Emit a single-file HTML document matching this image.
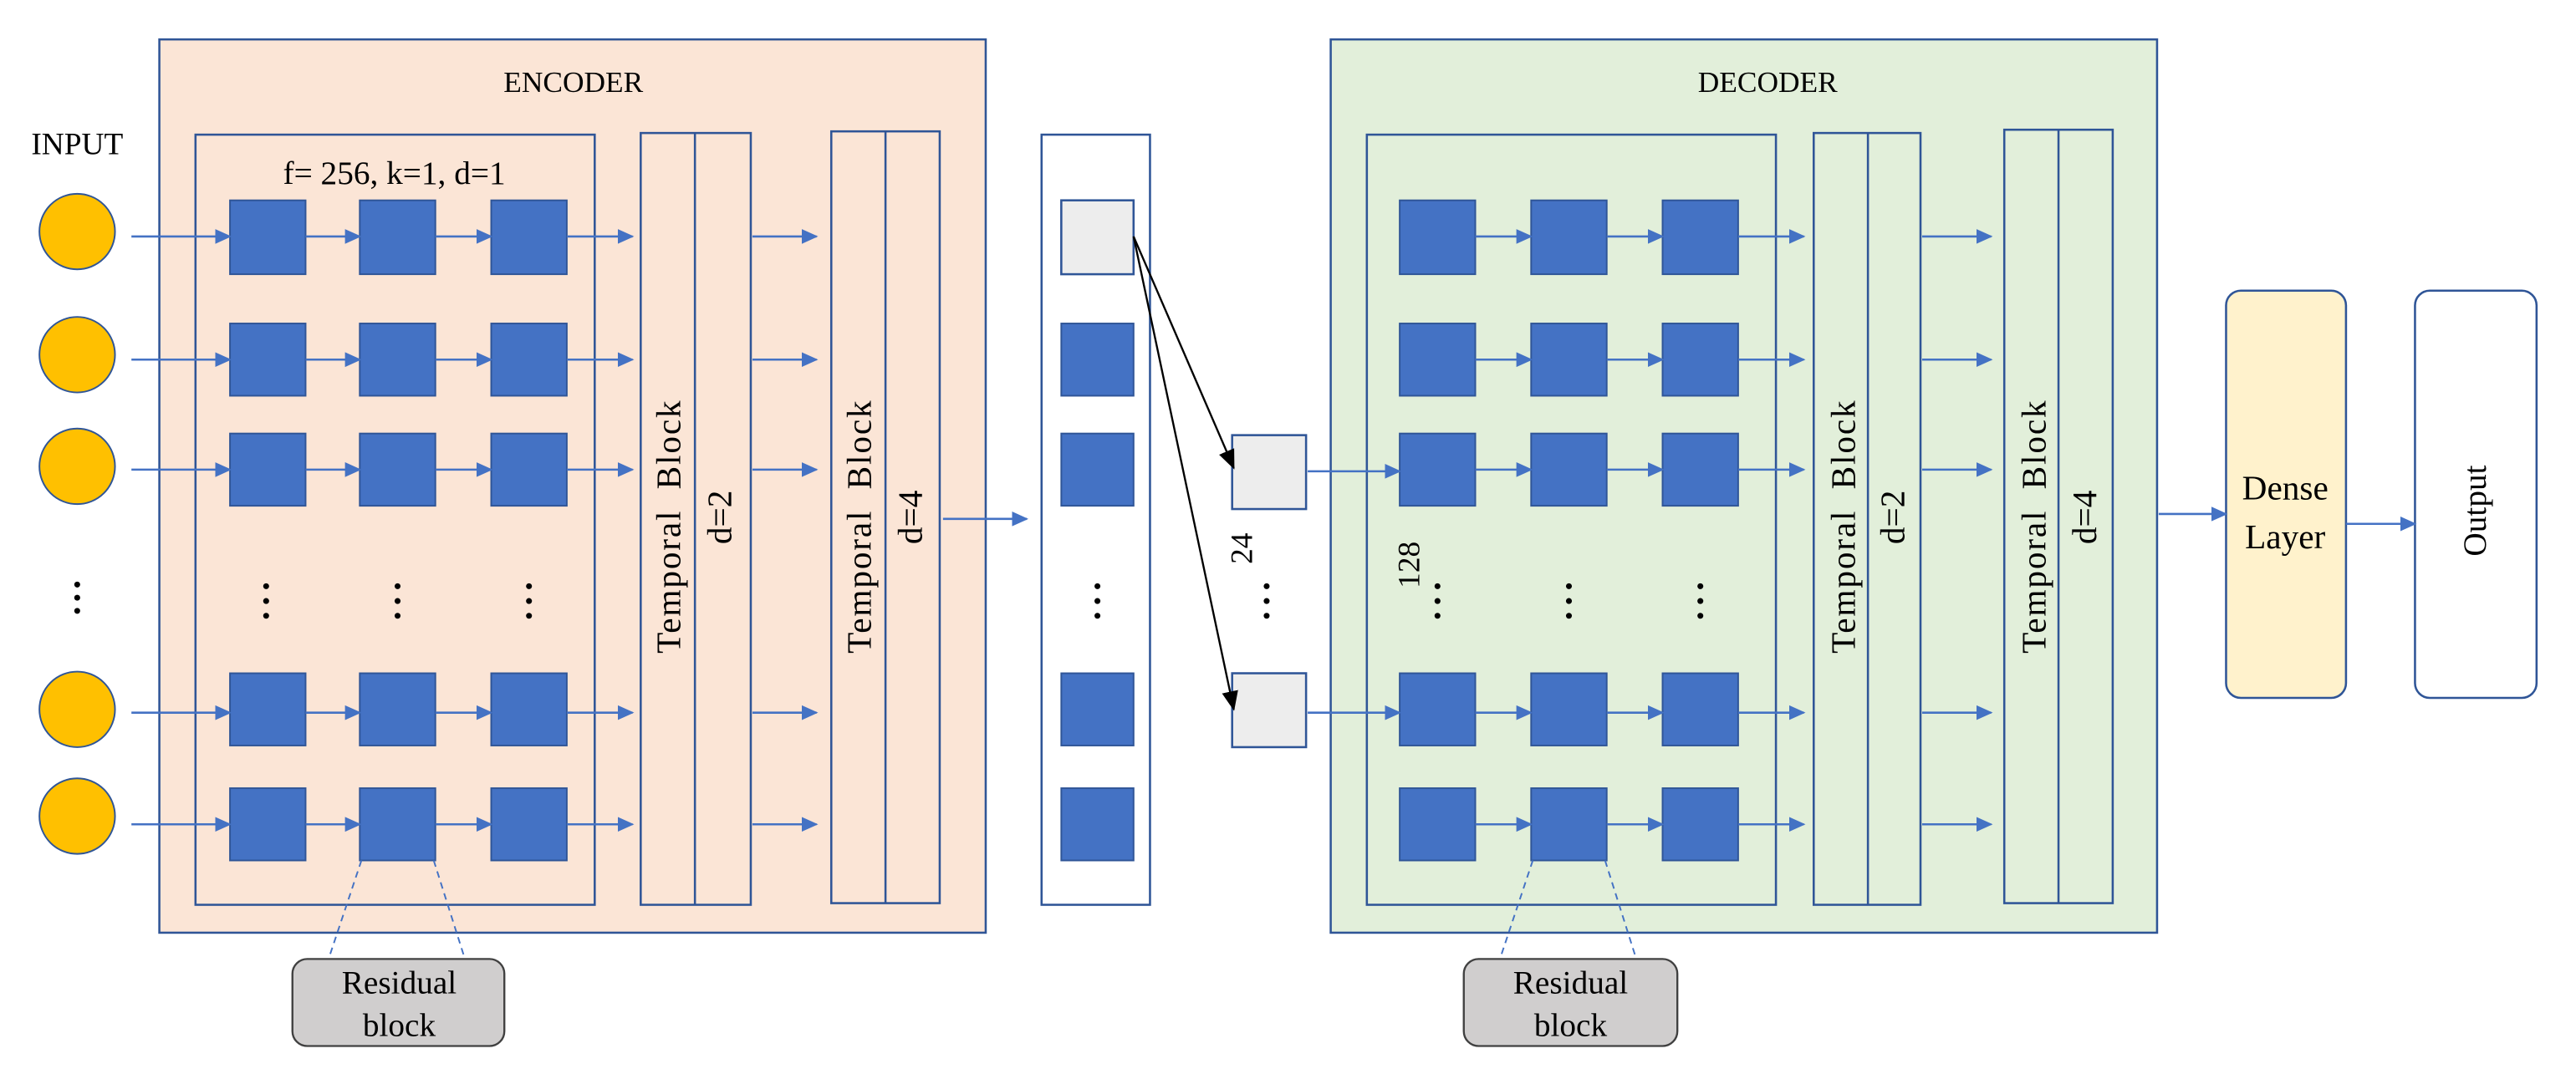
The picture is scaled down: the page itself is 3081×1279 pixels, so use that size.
<!DOCTYPE html>
<html><head><meta charset="utf-8"><style>
html,body{margin:0;padding:0;background:#fff;}
svg{display:block;}
</style></head><body>
<svg width="3081" height="1279" viewBox="0 0 1568 651" preserveAspectRatio="none" xmlns="http://www.w3.org/2000/svg">
<defs>
<marker id="a" markerWidth="10" markerHeight="10" refX="9" refY="5" orient="auto" markerUnits="userSpaceOnUse"><path d="M0,0.5 L10,5 L0,9.5 z" fill="#4472c4"/></marker>
<marker id="k" markerWidth="12" markerHeight="12" refX="11" refY="6" orient="auto" markerUnits="userSpaceOnUse"><path d="M0,1 L12,6 L0,11 z" fill="#000"/></marker>
</defs>
<g stroke="#2f5597" stroke-width="1.3">
<rect x="97" y="24" width="503" height="544" fill="#fbe5d6"/>
<rect x="119" y="82" width="243" height="469" fill="none"/>
<rect x="390" y="81" width="67" height="470" fill="none"/>
<line x1="423" y1="81" x2="423" y2="551"/>
<rect x="506" y="80" width="66" height="470" fill="none"/>
<line x1="539" y1="80" x2="539" y2="550"/>
<rect x="634" y="82" width="66" height="469" fill="#fff"/>
<rect x="646" y="122" width="44" height="45" fill="#ededed"/>
<rect x="750" y="265" width="45" height="45" fill="#ededed"/>
<rect x="750" y="410" width="45" height="45" fill="#ededed"/>
<rect x="810" y="24" width="503" height="544" fill="#e2efda"/>
<rect x="832" y="82" width="249" height="469" fill="none"/>
<rect x="1104" y="81" width="65" height="470" fill="none"/>
<line x1="1137" y1="81" x2="1137" y2="551"/>
<rect x="1220" y="79" width="66" height="471" fill="none"/>
<line x1="1253" y1="79" x2="1253" y2="550"/>
<rect x="1355" y="177" width="73" height="248" rx="9" fill="#fff2cc"/>
<rect x="1470" y="177" width="74" height="248" rx="9" fill="#fff"/>
</g>
<g fill="#ffc000" stroke="#2f5597" stroke-width="1">
<circle cx="47" cy="141" r="23"/><circle cx="47" cy="216" r="23"/><circle cx="47" cy="284" r="23"/>
<circle cx="47" cy="432" r="23"/><circle cx="47" cy="497" r="23"/>
</g>
<g fill="#4472c4" stroke="#2f5597" stroke-width="1">
<rect x="140" y="122" width="46" height="45"/><rect x="219" y="122" width="46" height="45"/><rect x="299" y="122" width="46" height="45"/>
<rect x="140" y="197" width="46" height="44"/><rect x="219" y="197" width="46" height="44"/><rect x="299" y="197" width="46" height="44"/>
<rect x="140" y="264" width="46" height="44"/><rect x="219" y="264" width="46" height="44"/><rect x="299" y="264" width="46" height="44"/>
<rect x="140" y="410" width="46" height="44"/><rect x="219" y="410" width="46" height="44"/><rect x="299" y="410" width="46" height="44"/>
<rect x="140" y="480" width="46" height="44"/><rect x="219" y="480" width="46" height="44"/><rect x="299" y="480" width="46" height="44"/>
<rect x="646" y="197" width="44" height="44"/><rect x="646" y="264" width="44" height="44"/>
<rect x="646" y="410" width="44" height="44"/><rect x="646" y="480" width="44" height="44"/>
<rect x="852" y="122" width="46" height="45"/><rect x="932" y="122" width="46" height="45"/><rect x="1012" y="122" width="46" height="45"/>
<rect x="852" y="197" width="46" height="44"/><rect x="932" y="197" width="46" height="44"/><rect x="1012" y="197" width="46" height="44"/>
<rect x="852" y="264" width="46" height="44"/><rect x="932" y="264" width="46" height="44"/><rect x="1012" y="264" width="46" height="44"/>
<rect x="852" y="410" width="46" height="44"/><rect x="932" y="410" width="46" height="44"/><rect x="1012" y="410" width="46" height="44"/>
<rect x="852" y="480" width="46" height="44"/><rect x="932" y="480" width="46" height="44"/><rect x="1012" y="480" width="46" height="44"/>
</g>
<g stroke="#4472c4" stroke-width="1.3" marker-end="url(#a)">
<line x1="80" y1="144" x2="140" y2="144"/><line x1="186" y1="144" x2="219" y2="144"/><line x1="265" y1="144" x2="299" y2="144"/><line x1="345" y1="144" x2="385" y2="144"/><line x1="458" y1="144" x2="497" y2="144"/>
<line x1="80" y1="219" x2="140" y2="219"/><line x1="186" y1="219" x2="219" y2="219"/><line x1="265" y1="219" x2="299" y2="219"/><line x1="345" y1="219" x2="385" y2="219"/><line x1="458" y1="219" x2="497" y2="219"/>
<line x1="80" y1="286" x2="140" y2="286"/><line x1="186" y1="286" x2="219" y2="286"/><line x1="265" y1="286" x2="299" y2="286"/><line x1="345" y1="286" x2="385" y2="286"/><line x1="458" y1="286" x2="497" y2="286"/>
<line x1="80" y1="434" x2="140" y2="434"/><line x1="186" y1="434" x2="219" y2="434"/><line x1="265" y1="434" x2="299" y2="434"/><line x1="345" y1="434" x2="385" y2="434"/><line x1="458" y1="434" x2="497" y2="434"/>
<line x1="80" y1="502" x2="140" y2="502"/><line x1="186" y1="502" x2="219" y2="502"/><line x1="265" y1="502" x2="299" y2="502"/><line x1="345" y1="502" x2="385" y2="502"/><line x1="458" y1="502" x2="497" y2="502"/>
<line x1="574" y1="316" x2="625" y2="316"/>
<line x1="898" y1="144" x2="932" y2="144"/><line x1="978" y1="144" x2="1012" y2="144"/><line x1="1058" y1="144" x2="1098" y2="144"/><line x1="1170" y1="144" x2="1212" y2="144"/>
<line x1="898" y1="219" x2="932" y2="219"/><line x1="978" y1="219" x2="1012" y2="219"/><line x1="1058" y1="219" x2="1098" y2="219"/><line x1="1170" y1="219" x2="1212" y2="219"/>
<line x1="796" y1="287" x2="852" y2="287"/><line x1="898" y1="286" x2="932" y2="286"/><line x1="978" y1="286" x2="1012" y2="286"/><line x1="1058" y1="286" x2="1098" y2="286"/><line x1="1170" y1="286" x2="1212" y2="286"/>
<line x1="796" y1="434" x2="852" y2="434"/><line x1="898" y1="434" x2="932" y2="434"/><line x1="978" y1="434" x2="1012" y2="434"/><line x1="1058" y1="434" x2="1098" y2="434"/><line x1="1170" y1="434" x2="1212" y2="434"/>
<line x1="898" y1="502" x2="932" y2="502"/><line x1="978" y1="502" x2="1012" y2="502"/><line x1="1058" y1="502" x2="1098" y2="502"/><line x1="1170" y1="502" x2="1212" y2="502"/>
<line x1="1314" y1="313" x2="1355" y2="313"/>
<line x1="1428" y1="319" x2="1470" y2="319"/>
</g>
<g stroke="#000" stroke-width="1.2" marker-end="url(#k)">
<line x1="690" y1="144" x2="751" y2="285"/>
<line x1="690" y1="144" x2="751" y2="432"/>
</g>
<g stroke="#4472c4" stroke-width="1" stroke-dasharray="4,3">
<line x1="220" y1="524" x2="200" y2="584"/><line x1="264" y1="524" x2="283" y2="584"/>
<line x1="933" y1="524" x2="913" y2="584"/><line x1="977" y1="524" x2="996" y2="584"/>
</g>
<g fill="#d0cece" stroke="#404040" stroke-width="1.2">
<rect x="178" y="584" width="129" height="53" rx="9"/>
<rect x="891" y="584" width="130" height="53" rx="9"/>
</g>
<g font-family="'Liberation Serif','DejaVu Serif',serif" font-size="18" text-anchor="middle" fill="#000">
<text x="349" y="56">ENCODER</text>
<text x="1076" y="56">DECODER</text>
<text x="47" y="94" font-size="19">INPUT</text>
<text x="240" y="112" font-size="20">f= 256, k=1, d=1</text>
<text x="243" y="605" font-size="20">Residual</text><text x="243" y="631" font-size="20">block</text>
<text x="956" y="605" font-size="20">Residual</text><text x="956" y="631" font-size="20">block</text>
<text x="1391" y="304" font-size="21">Dense</text><text x="1391" y="334" font-size="21">Layer</text>
<text transform="translate(1513,311) rotate(-90)" font-size="20">Output</text>
<text transform="translate(414,321) rotate(-90)" font-size="21" textLength="154" xml:space="preserve">Temporal  Block</text>
<text transform="translate(445,315) rotate(-90)" font-size="21">d=2</text>
<text transform="translate(530,321) rotate(-90)" font-size="21" textLength="154" xml:space="preserve">Temporal  Block</text>
<text transform="translate(561,315) rotate(-90)" font-size="21">d=4</text>
<text transform="translate(1129,321) rotate(-90)" font-size="21" textLength="154" xml:space="preserve">Temporal  Block</text>
<text transform="translate(1159,315) rotate(-90)" font-size="21">d=2</text>
<text transform="translate(1245,321) rotate(-90)" font-size="21" textLength="154" xml:space="preserve">Temporal  Block</text>
<text transform="translate(1276,315) rotate(-90)" font-size="21">d=4</text>
<text transform="translate(762,334) rotate(-90)" font-size="19">24</text>
<text transform="translate(864,344) rotate(-90)" font-size="19">128</text>
</g>
<g fill="#000">
<circle cx="47" cy="356" r="1.8"/><circle cx="47" cy="364" r="1.8"/><circle cx="47" cy="372" r="1.8"/>
<circle cx="162" cy="357" r="1.8"/><circle cx="162" cy="366" r="1.8"/><circle cx="162" cy="375" r="1.8"/>
<circle cx="242" cy="357" r="1.8"/><circle cx="242" cy="366" r="1.8"/><circle cx="242" cy="375" r="1.8"/>
<circle cx="322" cy="357" r="1.8"/><circle cx="322" cy="366" r="1.8"/><circle cx="322" cy="375" r="1.8"/>
<circle cx="668" cy="357" r="1.8"/><circle cx="668" cy="366" r="1.8"/><circle cx="668" cy="375" r="1.8"/>
<circle cx="771" cy="357" r="1.8"/><circle cx="771" cy="366" r="1.8"/><circle cx="771" cy="375" r="1.8"/>
<circle cx="875" cy="357" r="1.8"/><circle cx="875" cy="366" r="1.8"/><circle cx="875" cy="375" r="1.8"/>
<circle cx="955" cy="357" r="1.8"/><circle cx="955" cy="366" r="1.8"/><circle cx="955" cy="375" r="1.8"/>
<circle cx="1035" cy="357" r="1.8"/><circle cx="1035" cy="366" r="1.8"/><circle cx="1035" cy="375" r="1.8"/>
</g>
</svg>
</body></html>
